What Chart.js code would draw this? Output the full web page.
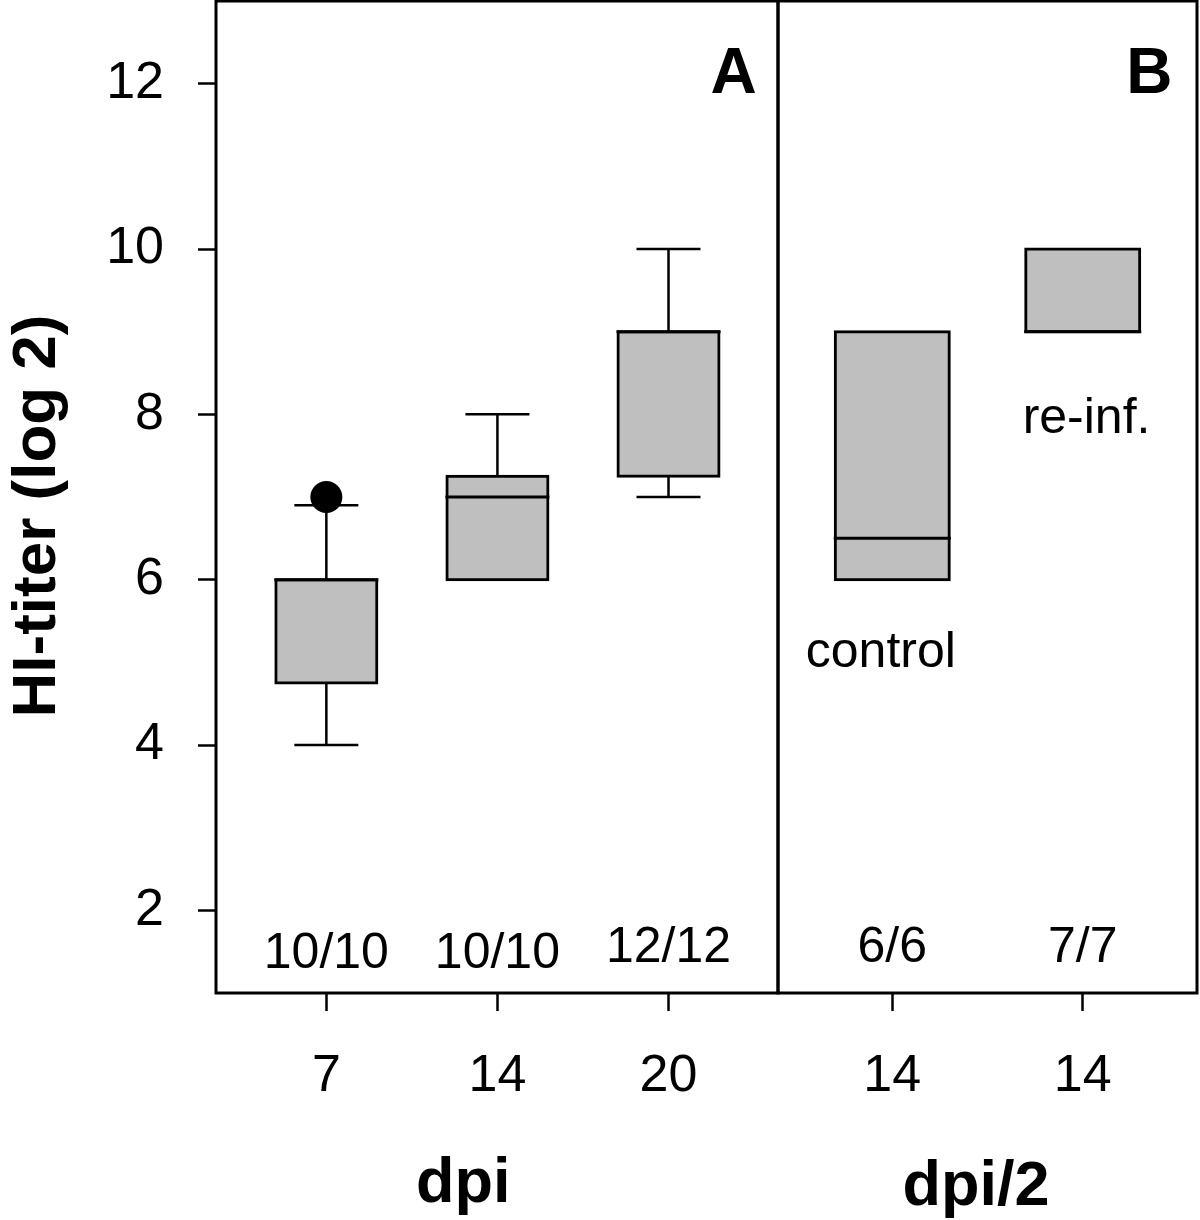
<!DOCTYPE html>
<html>
<head>
<meta charset="utf-8">
<title>HI-titer (log 2)</title>
<script src="https://cdn.jsdelivr.net/npm/chart.js@4.4.1/dist/chart.umd.min.js"></script>
<style>
  html, body { margin: 0; padding: 0; background: #fff; }
  #wrap { position: relative; width: 1200px; height: 1220px; overflow: hidden; }
  canvas { position: absolute; top: 0; }
  #chartA { left: 0; }
  #chartB { left: 760px; }
</style>
</head>
<body>
<div id="wrap">
  <canvas id="chartA" width="780" height="1220"></canvas>
  <canvas id="chartB" width="440" height="1220"></canvas>
</div>
<script>
// Panel A: days post infection.
const dpiLabels = ['7', '14', '20'];
const dpiCounts = ['10/10', '10/10', '12/12'];
const dpiLowerWhisker = [4, 6, 7];
const dpiQ1 = [4.75, 6, 7.25];
const dpiMedian = [6, 7, 9];
const dpiQ3 = [6, 7.25, 9];
const dpiUpperWhisker = [6.9, 8, 10];
const dpiOutlierX = [1];
const dpiOutlierY = [7];

// Panel B: days post second infection.
const dpi2Labels = ['14', '14'];
const dpi2Groups = ['control', 're-inf.'];
const dpi2Counts = ['6/6', '7/7'];
const dpi2LowerWhisker = [6, 9];
const dpi2Q1 = [6, 9];
const dpi2Median = [6.5, 9];
const dpi2Q3 = [9, 10];
const dpi2UpperWhisker = [9, 10];

const yTicks = [2, 4, 6, 8, 10, 12];

const FONT = "'Liberation Sans', Arial, Helvetica, sans-serif";
const BOX_FILL = '#bfbfbf';

Chart.defaults.font.family = FONT;
Chart.defaults.color = '#000';

function makePanel(canvasId, panel) {
  // Whiskers under the boxes, medians on top of them.
  const whiskers = {
    id: 'boxWhiskers',
    beforeDatasetsDraw(chart) {
      const { ctx, scales: { x, y } } = chart;
      const half = panel.capWidth / 2;
      ctx.save();
      ctx.strokeStyle = '#000';
      ctx.lineWidth = 2.5;
      panel.q1.forEach((q1, i) => {
        const cx = x.getPixelForValue(i + 1);
        [[panel.lo[i], q1], [panel.hi[i], panel.q3[i]]].forEach(([end, edge]) => {
          if (end === edge) return;
          const py = y.getPixelForValue(end);
          ctx.beginPath();
          ctx.moveTo(cx, y.getPixelForValue(edge));
          ctx.lineTo(cx, py);
          ctx.moveTo(cx - half, py);
          ctx.lineTo(cx + half, py);
          ctx.stroke();
        });
      });
      ctx.restore();
    },
    afterDatasetsDraw(chart) {
      const { ctx, scales: { y } } = chart;
      const meta = chart.getDatasetMeta(0);
      ctx.save();
      ctx.strokeStyle = '#000';
      ctx.lineWidth = 3;
      panel.med.forEach((m, i) => {
        const bar = meta.data[i];
        const w = bar.width / 2 + 1.5;
        const py = y.getPixelForValue(m);
        ctx.beginPath();
        ctx.moveTo(bar.x - w, py);
        ctx.lineTo(bar.x + w, py);
        ctx.stroke();
      });
      ctx.restore();
    }
  };

  // Box round the plot region.
  const frame = {
    id: 'panelFrame',
    afterDatasetsDraw(chart) {
      const { ctx, chartArea: a } = chart;
      ctx.save();
      ctx.lineWidth = 3;
      ctx.strokeStyle = '#000';
      ctx.strokeRect(a.left, a.top, a.right - a.left, a.bottom - a.top);
      ctx.restore();
    }
  };

  // Annotations and axis titles.
  const texts = {
    id: 'panelText',
    afterDraw(chart) {
      const { ctx, scales: { x, y } } = chart;
      ctx.save();
      ctx.fillStyle = '#000';
      panel.texts.forEach(t => {
        const px = t.px !== undefined ? t.px : x.getPixelForValue(t.x);
        const py = t.py !== undefined ? t.py : y.getPixelForValue(t.y);
        ctx.font = (t.bold ? 'bold ' : '') + t.size + 'px ' + FONT;
        ctx.textAlign = 'center';
        ctx.textBaseline = 'alphabetic';
        ctx.save();
        ctx.translate(px, py);
        if (t.rotate) ctx.rotate(t.rotate);
        ctx.fillText(t.text, 0, 0);
        ctx.restore();
      });
      ctx.restore();
    }
  };

  return new Chart(document.getElementById(canvasId), {
    type: 'bar',
    data: {
      datasets: [
        {
          type: 'bar',
          data: panel.q1.map((q, i) => ({ x: i + 1, y: [q, panel.q3[i]] })),
          backgroundColor: BOX_FILL,
          borderColor: '#000',
          borderWidth: 3,
          borderSkipped: false,
          inflateAmount: 1.5,
          barThickness: panel.boxWidth,
          order: 2
        },
        {
          type: 'scatter',
          data: panel.outX.map((v, i) => ({ x: v, y: panel.outY[i] })),
          pointRadius: 16,
          pointBackgroundColor: '#000',
          pointBorderWidth: 0,
          order: 1
        }
      ]
    },
    options: {
      responsive: false,
      animation: false,
      layout: { padding: panel.padding, autoPadding: false },
      plugins: {
        legend: { display: false },
        tooltip: { enabled: false }
      },
      scales: {
        x: {
          type: 'linear',
          min: panel.xMin,
          max: panel.xMax,
          offset: false,
          afterBuildTicks: s => { s.ticks = panel.labels.map((_, i) => ({ value: i + 1 })); },
          afterFit: s => { s.height = 227; s.paddingLeft = 0; s.paddingRight = 0; },
          ticks: {
            autoSkip: false,
            maxRotation: 0,
            padding: 34,
            font: { size: 52 },
            callback: (v, i) => panel.labels[i]
          },
          grid: {
            offset: false,
            drawOnChartArea: false,
            tickLength: 18,
            tickWidth: 2.5,
            tickColor: '#000'
          },
          border: { display: false }
        },
        y: {
          type: 'linear',
          display: panel.showY,
          min: 1,
          max: 13,
          beginAtZero: false,
          afterBuildTicks: s => { s.ticks = yTicks.map(v => ({ value: v })); },
          afterFit: s => {
            s.width = panel.showY ? 216 : 0;
            s.paddingTop = 0;
            s.paddingBottom = 0;
          },
          ticks: {
            padding: 34,
            font: { size: 52 }
          },
          grid: {
            drawOnChartArea: false,
            tickLength: 18,
            tickWidth: 2.5,
            tickColor: '#000'
          },
          border: { display: false }
        }
      }
    },
    plugins: [whiskers, frame, texts]
  });
}

makePanel('chartA', {
  labels: dpiLabels,
  lo: dpiLowerWhisker, q1: dpiQ1, med: dpiMedian, q3: dpiQ3, hi: dpiUpperWhisker,
  outX: dpiOutlierX, outY: dpiOutlierY,
  xMin: 0.355, xMax: 3.64,
  boxWidth: 101, capWidth: 64,
  showY: true,
  padding: { left: 0, right: 2, top: 1, bottom: 0 },
  texts: [
    ...dpiCounts.map((c, i) => ({ text: c, x: i + 1, y: i < 2 ? 1.3 : 1.38, size: 50 })),
    { text: 'A', x: 3.38, y: 11.89, size: 64, bold: true },
    { text: 'dpi', x: 1.8, py: 1202, size: 63, bold: true },
    { text: 'HI-titer (log 2)', px: 55, py: 516, size: 62, bold: true, rotate: -Math.PI / 2 }
  ]
});

makePanel('chartB', {
  labels: dpi2Labels,
  lo: dpi2LowerWhisker, q1: dpi2Q1, med: dpi2Median, q3: dpi2Q3, hi: dpi2UpperWhisker,
  outX: [], outY: [],
  xMin: 0.4, xMax: 2.6,
  boxWidth: 114, capWidth: 64,
  showY: false,
  padding: { left: 18, right: 3, top: 1, bottom: 0 },
  texts: [
    ...dpi2Counts.map((c, i) => ({ text: c, x: i + 1, y: 1.38, size: 50 })),
    { text: dpi2Groups[0], x: 0.94, y: 4.94, size: 50 },
    { text: dpi2Groups[1], x: 2.02, y: 7.77, size: 50 },
    { text: 'B', x: 2.35, y: 11.89, size: 64, bold: true },
    { text: 'dpi/2', x: 1.44, py: 1205, size: 63, bold: true }
  ]
});
</script>
</body>
</html>
